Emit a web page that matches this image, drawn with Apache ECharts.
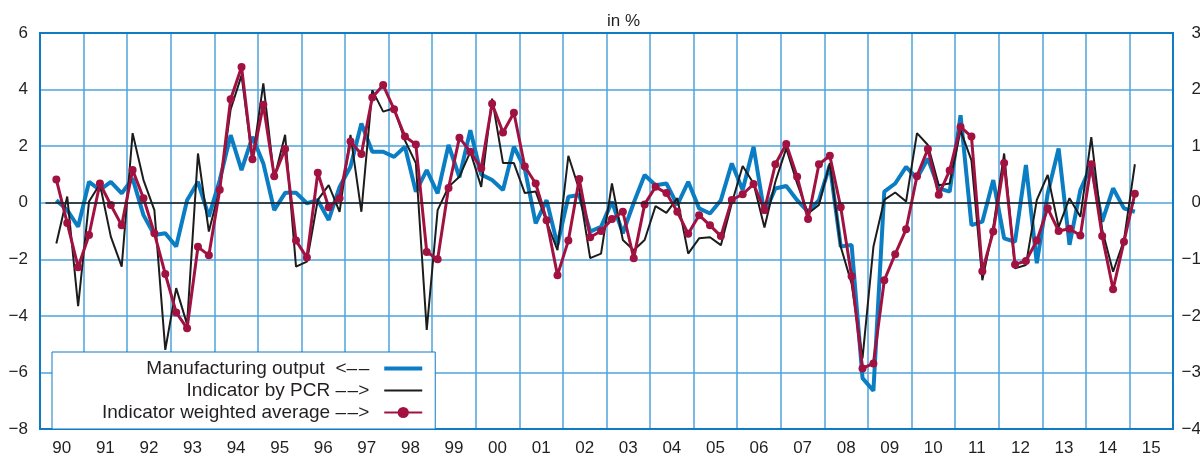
<!DOCTYPE html>
<html><head><meta charset="utf-8">
<script src="https://cdn.jsdelivr.net/npm/echarts@6/dist/echarts.min.js"></script>
<style>html,body{margin:0;padding:0;background:#fff}#c{width:1200px;height:458px}</style>
</head><body><div id="c"></div>
<script>
// Year tick labels (one band per year) and quarterly categories
const yearLabels = ['90','91','92','93','94','95','96','97','98','99','00','01','02','03','04','05','06','07','08','09','10','11','12','13','14','15'];
const quarterLabels = [];
yearLabels.forEach(function (y) { ['Q1','Q2','Q3','Q4'].forEach(function (q) { quarterLabels.push(y + ' ' + q); }); });

const seriesNames = ['Manufacturing output', 'Indicator by PCR', 'Indicator weighted average'];
const legendArrows = ['  <\u2013\u200a\u2013', ' \u2013\u200a\u2013>', ' \u2013\u200a\u2013>'];

// Manufacturing output, quarter-on-quarter, left axis (1990 Q1 .. 2015 Q1)
const manufacturingOutput = [
  null, 0.09, -0.26, -0.85,
  0.74, 0.45, 0.74, 0.33,
  0.86, -0.44, -1.14, -1.08,
  -1.55, 0.09, 0.74, -0.49,
  0.80, 2.39, 1.15, 2.33,
  1.39, -0.26, 0.35, 0.35,
  -0.02, 0.09, -0.61, 0.56,
  1.27, 2.80, 1.80, 1.80,
  1.62, 1.98, 0.39, 1.15,
  0.33, 2.04, 0.90, 2.56,
  1.00, 0.80, 0.45, 1.98,
  1.20, -0.73, 0.09, -1.49,
  0.21, 0.27, -1.02, -0.85,
  0.04, -1.08, 0.00, 0.98,
  0.62, 0.68, -0.08, 0.74,
  -0.20, -0.38, 0.09, 1.39,
  0.45, 1.98, -0.38, 0.50,
  0.59, 0.09, -0.32, 0.09,
  1.33, -1.55, -1.49, -6.20,
  -6.65, 0.39, 0.68, 1.27,
  0.86, 1.56, 0.51, 0.39,
  3.09, -0.79, -0.67, 0.80,
  -1.26, -1.38, 1.33, -2.14,
  0.33, 1.92, -1.49, 0.45,
  1.33, -0.67, 0.51, -0.20,
  -0.32
];

// Indicator by PCR, right axis
const indicatorPCR = [
  null, -0.72, 0.11, -1.83,
  0.02, 0.33, -0.60, -1.13,
  1.23, 0.40, -0.13, -2.60,
  -1.51, -2.15, 0.87, -0.51,
  0.25, 1.65, 2.25, 0.75,
  2.11, 0.43, 1.20, -1.13,
  -1.04, 0.05, 0.31, -0.16,
  1.20, -0.16, 1.99, 1.61,
  1.67, 1.10, 0.70, -2.25,
  -0.13, 0.28, 0.46, 0.90,
  0.28, 1.84, 0.70, 0.70,
  0.17, 0.20, -0.34, -0.84,
  0.83, 0.23, -0.98, -0.90,
  0.34, -0.66, -0.84, -0.66,
  -0.06, -0.18, 0.08, -0.90,
  -0.63, -0.61, -0.75, -0.01,
  0.65, 0.34, -0.44, 0.37,
  0.96, 0.34, -0.19, -0.04,
  0.70, -0.78, -1.43, -2.75,
  -0.78, 0.05, 0.18, 0.02,
  1.23, 1.02, 0.31, 0.34,
  1.28, 0.75, -1.37, -0.43,
  0.87, -1.16, -1.10, 0.05,
  0.49, -0.43, 0.08, -0.25,
  1.16, -0.48, -1.22, -0.66,
  0.68
];

// Indicator weighted average, right axis
const indicatorWeighted = [
  null, 0.41, -0.36, -1.14,
  -0.57, 0.34, -0.04, -0.40,
  0.58, 0.08, -0.54, -1.26,
  -1.94, -2.22, -0.78, -0.93,
  0.23, 1.83, 2.40, 0.77,
  1.73, 0.47, 0.95, -0.67,
  -0.97, 0.53, -0.08, 0.08,
  1.08, 0.86, 1.86, 2.08,
  1.65, 1.17, 1.03, -0.87,
  -1.00, 0.26, 1.15, 0.90,
  0.61, 1.75, 1.24, 1.59,
  0.64, 0.34, -0.31, -1.28,
  -0.67, 0.42, -0.61, -0.50,
  -0.29, -0.16, -0.98, -0.03,
  0.28, 0.17, -0.16, -0.55,
  -0.22, -0.40, -0.59, 0.05,
  0.15, 0.33, -0.13, 0.68,
  1.04, 0.46, -0.29, 0.68,
  0.83, -0.08, -1.30, -2.93,
  -2.84, -1.37, -0.91, -0.47,
  0.47, 0.95, 0.14, 0.57,
  1.34, 1.17, -1.21, -0.51,
  0.70, -1.09, -1.03, -0.67,
  -0.10, -0.50, -0.46, -0.58,
  0.68, -0.59, -1.53, -0.69,
  0.16
];

const FONT = '"Liberation Sans", Arial, Helvetica, sans-serif';
const TEXT = '#231f20';
const FRAME = '#0f7bc2';
const GRIDLINE = '#4ea5dc';
const BLUE = '#0a7dc3';
const BLACK = '#1c1c1c';
const RED = '#a11240';

function minus(v) { return String(v).replace('-', '\u2212'); }

const chart = echarts.init(document.getElementById('c'), null, {renderer: 'canvas'});
chart.setOption({
  animation: false,
  textStyle: {fontFamily: FONT},
  graphic: [{
    type: 'text', left: 607, top: 13,
    style: {text: 'in %', font: '17px ' + FONT, fill: TEXT}
  }],
  grid: {left: 40, right: 27, top: 33, bottom: 29, outerBoundsMode: 'none', containLabel: false,
         show: true, borderColor: FRAME, borderWidth: 2, backgroundColor: 'transparent', z: 3},
  legend: {
    orient: 'vertical', left: 52, top: 352, align: 'right',
    itemWidth: 38, itemHeight: 14, itemGap: 3,
    padding: [7, 12, 7, 50],
    backgroundColor: '#fff', borderColor: FRAME, borderWidth: 1,
    textStyle: {fontSize: 19, color: TEXT, lineHeight: 16, fontFamily: FONT, padding: [0, 10, 0, 0]},
    data: [
      {name: seriesNames[0], icon: 'path://M0,0H38V4H0Z'},
      {name: seriesNames[1], icon: 'path://M0,0H38V2H0Z'},
      {name: seriesNames[2]}
    ],
    formatter: function (name) { return name + legendArrows[seriesNames.indexOf(name)]; },
    selectedMode: false
  },
  xAxis: [
    {type: 'category', data: quarterLabels, boundaryGap: true, show: false},
    {type: 'category', data: yearLabels, boundaryGap: true, position: 'bottom',
     axisLine: {show: false}, axisTick: {show: false},
     axisLabel: {interval: 0, fontSize: 17, color: TEXT, margin: 11, fontFamily: FONT},
     splitLine: {show: true, interval: 0, lineStyle: {color: GRIDLINE, width: 1.5}}}
  ],
  yAxis: [
    {type: 'value', min: -8, max: 6, interval: 2, position: 'left',
     axisLine: {show: false}, axisTick: {show: false},
     axisLabel: {fontSize: 17, color: TEXT, margin: 12, formatter: minus, fontFamily: FONT},
     splitLine: {show: true, lineStyle: {color: GRIDLINE, width: 1.5}}},
    {type: 'value', min: -4, max: 3, interval: 1, position: 'right',
     axisLine: {show: false}, axisTick: {show: false},
     axisLabel: {fontSize: 17, color: TEXT, margin: 28, align: 'right', formatter: minus, fontFamily: FONT},
     splitLine: {show: false}}
  ],
  series: [
    {name: seriesNames[0], type: 'line', xAxisIndex: 0, yAxisIndex: 0, data: manufacturingOutput,
     symbol: 'none', color: BLUE, lineStyle: {color: BLUE, width: 4}, z: 2,
     markLine: {silent: true, symbol: 'none', label: {show: false},
       lineStyle: {color: BLACK, width: 1.6, type: 'solid'},
       data: [[{xAxis: quarterLabels[0], yAxis: 0}, {xAxis: quarterLabels[manufacturingOutput.length - 1], yAxis: 0}]]}},
    {name: seriesNames[1], type: 'line', xAxisIndex: 0, yAxisIndex: 1, data: indicatorPCR,
     symbol: 'none', color: BLACK, lineStyle: {color: BLACK, width: 2}, z: 3},
    {name: seriesNames[2], type: 'line', xAxisIndex: 0, yAxisIndex: 1, data: indicatorWeighted,
     symbol: 'circle', symbolSize: 8, showAllSymbol: true, color: RED,
     itemStyle: {color: RED}, lineStyle: {color: RED, width: 3}, z: 4}
  ]
});
</script>
</body></html>
